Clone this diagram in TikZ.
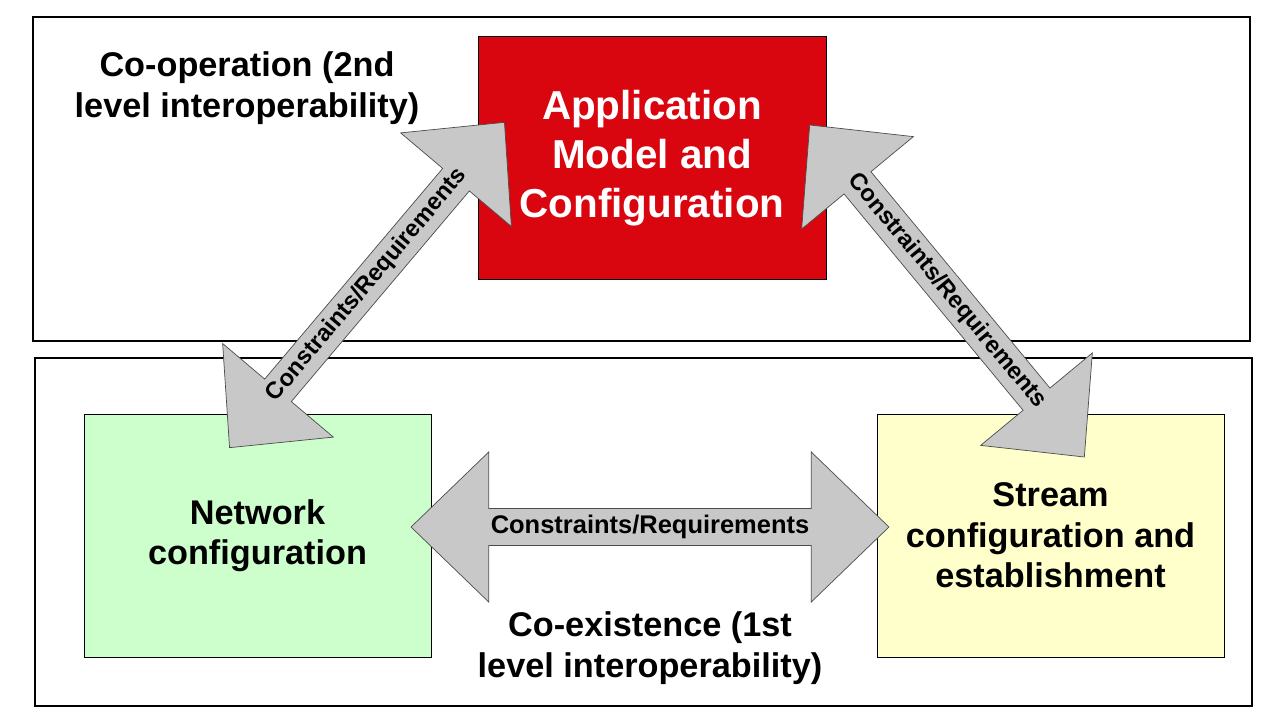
\documentclass[tikz,border=0pt]{standalone}
\usepackage{fontspec}
\setmainfont{Liberation Sans}
\usepackage{tikz}
\usetikzlibrary{shapes.arrows}

\definecolor{appred}{HTML}{D9050F}
\definecolor{netgreen}{HTML}{CCFFCC}
\definecolor{streamyellow}{HTML}{FFFFCC}
\definecolor{arrowgray}{HTML}{C8C8C8}

\begin{document}
\begin{tikzpicture}[x=0.02cm, y=-0.02cm,
    every node/.style={font=\bfseries, align=center},
    frame/.style={draw=black, thick, inner sep=0pt},
    block/.style={draw=black, inner sep=0pt},
    link/.style={double arrow, draw=black!70, fill=arrowgray, inner sep=0pt,
      minimum width=3cm, double arrow head extend=0.75cm,
      double arrow tip angle=88, font=\bfseries\fontsize{14.5}{17}\selectfont},
    slant/.style={link, minimum width=2.9cm, double arrow head extend=0.72cm,
      font=\bfseries\fontsize{13.5}{16}\selectfont}]
    \useasboundingbox (0,0) rectangle (1280,723);
    \fill[white] (0,0) rectangle (1280,723);
    \node [frame, minimum width=24.34cm, minimum height=6.48cm] (coop) at (641.5,179) {};
    \node [frame, minimum width=24.34cm, minimum height=6.96cm] (coex) at (643.5,532) {};
    \node [block, fill=appred, text=white, minimum width=6.96cm, minimum height=4.86cm,
      font=\bfseries\fontsize{23}{28}\selectfont] (app) at (652,158) {Application\\Model and\\Configuration};
    \node [block, fill=netgreen, minimum width=6.94cm, minimum height=4.86cm,
      font=\bfseries\fontsize{19.5}{23}\selectfont] (net) at (257.5,535.5) {Network\\configuration};
    \node [block, fill=streamyellow, minimum width=6.94cm, minimum height=4.86cm,
      font=\bfseries\fontsize{19.5}{23}\selectfont] (stream) at (1050.5,535.5) {Stream\\configuration and\\establishment};
    \node [font=\bfseries\fontsize{19.5}{23}\selectfont] (coopl) at (247,88) {Co-operation (2nd\\level interoperability)};
    \node [font=\bfseries\fontsize{19.5}{23}\selectfont] (coexl) at (650,648) {Co-existence (1st\\level interoperability)};
    \node [link, minimum height=9.56cm] (h) at (650,527) {Constraints/Requirements};
    \node [slant, minimum height=8.52cm, rotate=49.8] (l) at (367,285) {Constraints/Requirements};
    \node [slant, minimum height=8.62cm, rotate=-50.4] (r) at (947,291) {Constraints/Requirements};
\end{tikzpicture}
\end{document}
